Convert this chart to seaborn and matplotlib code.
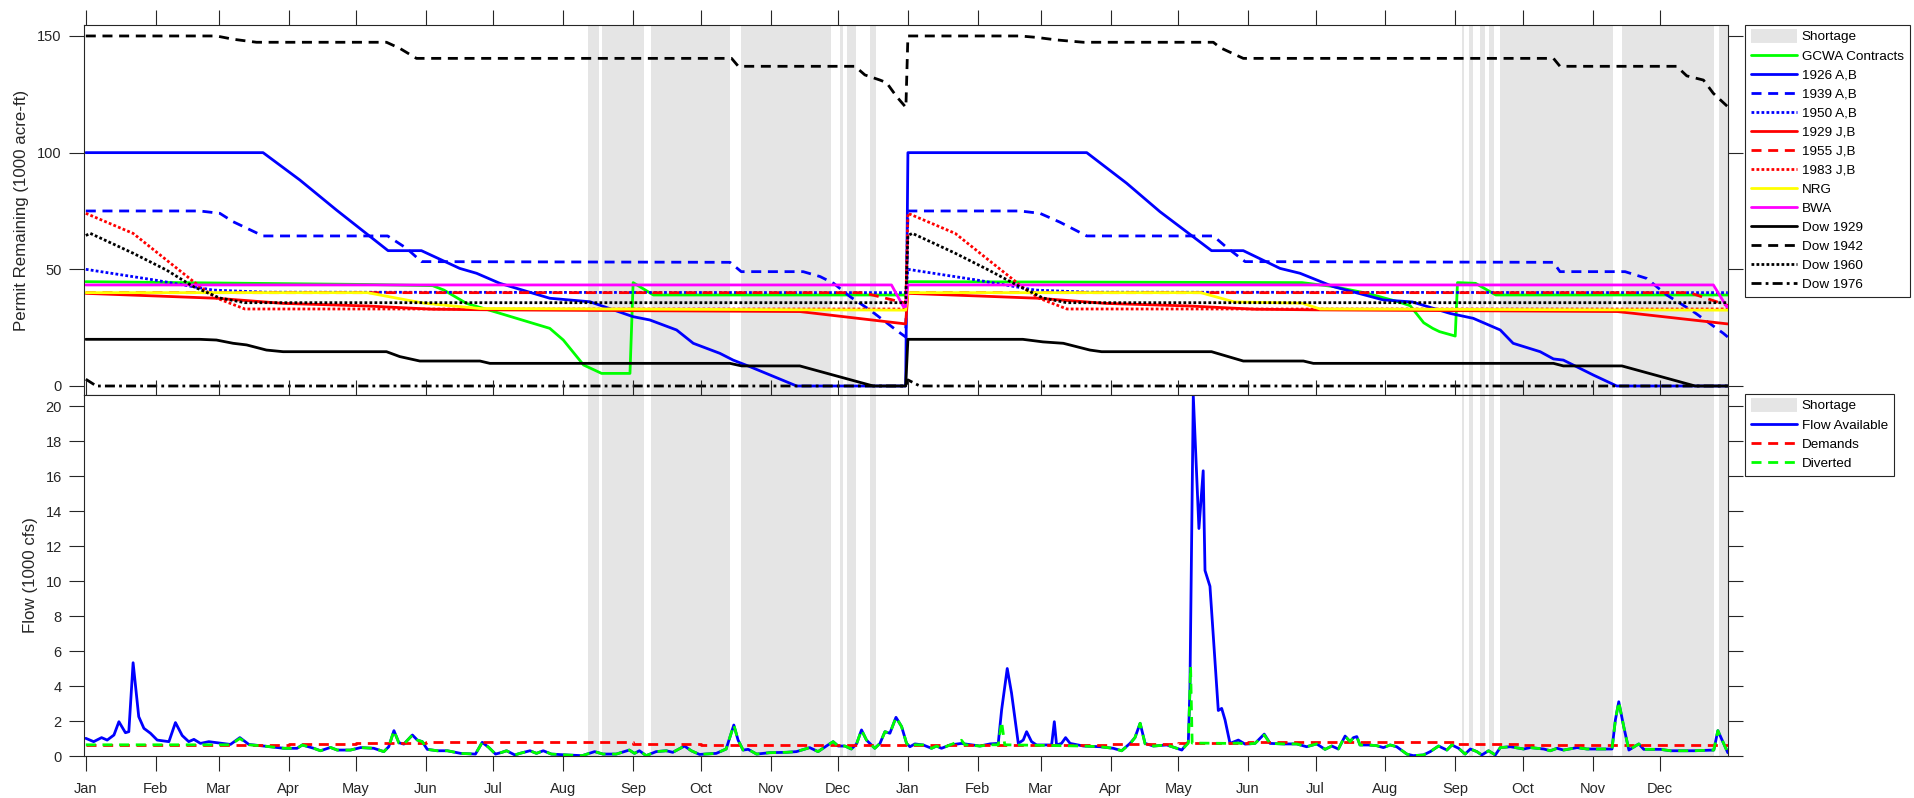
import numpy as np
import pandas as pd
import matplotlib
matplotlib.use("Agg")
import matplotlib.pyplot as plt
import matplotlib.dates as mdates
from matplotlib.lines import Line2D
import seaborn as sns

# ---------------------------------------------------------------------------
# Data (day offsets from 1 Jan of the first simulated year)
# ---------------------------------------------------------------------------
START = pd.Timestamp("2010-01-01")

# Shortage periods (start day, end day)
shortage_start = [223, 229, 251, 291, 335, 338, 348, 611, 614, 619, 623, 628, 682, 725]
shortage_end = [228, 248, 286, 331, 336, 342, 351, 612, 616, 621, 625, 678, 723, 730]

# Permit remaining, 1000 acre-ft
gcwa_day = [0, 125, 154, 159, 169, 184, 206, 212, 221, 229, 241.6, 243, 252, 364,
            365, 540, 554, 569, 583, 588, 594, 598, 601, 608, 609, 617, 626, 729]
gcwa_kaf = [44.7, 43.5, 43.0, 41.1, 35.4, 31.1, 24.7, 19.7, 9.0, 5.4, 5.4, 44.3, 39.0, 39.0,
            44.7, 44.3, 42.6, 39.7, 36.0, 34.4, 27.1, 24.7, 23.3, 21.4, 44.3, 44.0, 39.0, 39.0]

ab1926_day = [0, 78.7, 95, 111.3, 134.2, 149, 166, 173.5, 183.8, 206, 223.8, 243, 250.4,
              262.3, 269.7, 281.5, 287.4, 294.8, 315.6, 364,
              365, 444.4, 462.1, 476.9, 499.8, 513.9, 530.2, 539.1, 553.8, 576, 589, 605.7,
              616, 628, 633.7, 645.7, 651.6, 656, 669.3, 679.7, 729]
ab1926_kaf = [100, 100, 88.3, 75.4, 58, 58, 50.4, 48.3, 44, 37.6, 36.1, 29.7, 28.3,
              24, 18.3, 14, 11.1, 8.3, 0, 0,
              100, 100, 86.9, 74.7, 58, 58, 50.4, 48.3, 42.6, 36.9, 36, 31.1,
              29, 24, 18.3, 14.7, 11.6, 11.1, 4.7, 0, 0]

ab1939_day = [0, 50.6, 59.5, 65.4, 78.7, 134, 142.4, 149, 286, 291, 318.5, 326, 332,
              339.3, 348.1, 360.7, 364,
              365, 414.7, 423.6, 432.5, 444.4, 500.6, 506.5, 514.7, 651.6, 654.5, 683.4,
              693, 701.9, 713.7, 727, 729]
ab1939_kaf = [75, 75, 74, 70.4, 64.3, 64.3, 59, 53.3, 53, 49, 49, 46.9, 44,
              38.3, 32.6, 23.3, 21,
              75, 75, 74, 70.2, 64.3, 64.3, 59.4, 53.3, 53, 49, 49,
              46.1, 39, 31.9, 22.6, 21]

ab1950_day = [0, 30, 56.5, 80, 364, 365, 395, 421.5, 445, 729]
ab1950_kaf = [50, 45.5, 41.1, 40.2, 40, 50, 45.5, 41.1, 40.2, 40]

jb1929_day = [0, 58, 87.6, 124.6, 154, 184, 317, 364,
              365, 423, 452.6, 489.6, 519, 549, 680, 729]
jb1929_kaf = [39.7, 37.6, 35.4, 34.3, 32.9, 32.6, 31.9, 26.6,
              39.7, 37.6, 35.4, 34.3, 32.9, 32.6, 31.9, 26.6]

jb1955_day = [0, 345, 364, 365, 712, 729]
jb1955_kaf = [40, 40, 35.5, 40, 40, 34.5]

jb1983_day = [0, 21, 35.8, 50.6, 58, 70.6, 364, 365, 386, 400.8, 415.6, 423, 435.6, 729]
jb1983_kaf = [74, 65.4, 54, 42.6, 37.7, 33, 33, 74, 65.4, 54, 42.6, 37.7, 33, 33]

nrg_day = [0, 125, 150, 175, 364, 365, 495, 510, 540, 548, 729]
nrg_kaf = [40, 40, 35.5, 33.2, 32.5, 40, 40, 36, 35.5, 33, 32.5]

bwa_day = [0, 357.7, 363, 364, 365, 722.6, 728.5, 729]
bwa_kaf = [43.3, 43.3, 34, 34, 43.3, 43.3, 34, 34]

dow1929_day = [0, 50.6, 58, 65.4, 71.4, 80.2, 87.6, 133.5, 139.4, 148.3, 175, 179.4, 286,
               291.2, 317, 349.6, 364,
               365, 416, 425, 434, 445.8, 451, 499.8, 513.9, 540.6, 545, 651.6, 656, 682,
               714.5, 729]
dow1929_kaf = [20, 20, 19.7, 18.3, 17.6, 15.4, 14.7, 14.7, 12.6, 10.7, 10.7, 9.7, 9.7,
               8.6, 8.6, 0, 0,
               20, 20, 18.9, 18.3, 15.4, 14.7, 14.7, 10.7, 10.7, 9.7, 9.7, 8.6, 8.6,
               0, 0]

dow1942_day = [0, 58, 65.4, 75.8, 133.5, 139.4, 146.8, 286.7, 289.7, 341.5, 345.9, 352.6,
               355.5, 360, 364.1,
               365, 414.7, 422, 431, 442.9, 500.6, 503.6, 513.9, 651.6, 654.5, 706.3, 710.8,
               718.2, 722.6, 729.3]
dow1942_kaf = [150, 150, 148.6, 147.3, 147.3, 144.7, 140.4, 140.4, 137, 137, 133.3, 131.1,
               130, 124, 119.4,
               150, 150, 149.4, 148.3, 147.3, 147.3, 145, 140.4, 140.4, 137, 137, 132.9,
               131.1, 125.4, 119.4]

dow1960_day = [0, 2, 21, 35.8, 47.7, 59.5, 70.6, 364, 365, 367, 386, 400.8, 413.3, 425,
               435.5, 729]
dow1960_kaf = [64.5, 65.4, 56.9, 49.7, 42.6, 37.7, 35.7, 35.7, 64.5, 65.4, 56.9, 49.7,
               43.3, 37.7, 35.7, 35.7]

dow1976_day = [0, 4.7, 364, 365, 370.3, 729]
dow1976_kaf = [2.9, 0, 0, 2.6, 0, 0]

# Flow available, 1000 cfs
flow_day = [0, 3.5, 7, 9.5, 12.5, 14.7, 17.6, 19.1, 21, 23.5, 25.8, 28.7, 31.7, 36.9, 39.8,
            42.8, 45.7, 48, 50.9, 54.6, 58.3, 64.2, 68.4, 72.4, 79, 88, 93.8, 96.1, 101.2,
            104.2, 108.6, 111.6, 117.5, 122, 127.9, 132.3, 134.5, 136.8, 139, 141.2, 145,
            147.2, 149.4, 151.6, 156, 160.5, 166.4, 173, 176, 178.9, 181.9, 184.5, 186.8,
            190.5, 192.7, 197.2, 200.1, 203.1, 206.7, 213.4, 220.4, 225.9, 229.6, 235.5,
            241.3, 243.6, 245.8, 248.8, 253.2, 257.7, 260.6, 265.8, 268.8, 272.5, 279.9,
            284.3, 287.7, 289.6, 291.8, 294.1, 297.8, 303.7, 311.1, 315.5, 321.4, 325.1,
            328.8, 331.8, 334, 337, 339.9, 342.2, 344.4, 346.6, 350.3, 352.6, 354.8, 357,
            359.7, 362.2, 364.4,
            365.9, 368.1, 371.8, 375.5, 377.7, 379.9, 383.7, 388.8, 390.3, 397, 401.4, 405.1,
            406.6, 409.1, 411, 414, 416.2, 417.7, 419.9, 422.1, 428.8, 430, 431, 433.2, 435,
            437, 442.9, 450.3, 456.2, 459.9, 463.6, 465.8, 468.1, 470.3, 474, 479.9, 484.4,
            486.6, 489.5, 490.2, 491.7, 494.2, 496.1, 496.9, 499.1, 502.8, 504.3, 505.8, 508,
            511.7, 514.7, 519.1, 523.2, 525.8, 531.7, 537.6, 542, 546.5, 550.2, 553.2, 556.1,
            559.1, 561.3, 562.8, 564.3, 565.7, 569.4, 573.1, 576.1, 579.1, 582, 586.5, 589.4,
            593.9, 596.9, 600.6, 604.3, 606.5, 609.5, 612.4, 614.7, 617.6, 619.8, 622.8,
            625.8, 628, 632.5, 638.4, 641.3, 647.3, 650.2, 653.2, 656.1, 662.1, 666.5, 672.4,
            677.6, 679.1, 680.6, 682.8, 685.1, 689.5, 691.7, 699.1, 703.6, 713.9, 722.8,
            724.6, 726.5, 729]
flow_kcfs = [1.01, 0.82, 1.05, 0.91, 1.2, 1.96, 1.33, 1.39, 5.33, 2.25, 1.58, 1.3, 0.91, 0.82,
             1.91, 1.17, 0.82, 0.95, 0.72, 0.82, 0.76, 0.66, 1.05, 0.66, 0.57, 0.44, 0.44,
             0.63, 0.44, 0.30, 0.49, 0.34, 0.34, 0.48, 0.44, 0.25, 0.53, 1.45, 0.76, 0.68,
             1.2, 0.91, 0.82, 0.38, 0.30, 0.30, 0.15, 0.11, 0.78, 0.49, 0.11, 0.20, 0.30,
             0.06, 0.15, 0.30, 0.15, 0.30, 0.11, 0.06, 0.02, 0.25, 0.11, 0.11, 0.34, 0.15,
             0.30, 0.02, 0.25, 0.30, 0.21, 0.57, 0.30, 0.09, 0.15, 0.40, 1.77, 0.91, 0.34,
             0.38, 0.11, 0.19, 0.21, 0.25, 0.48, 0.25, 0.57, 0.82, 0.57, 0.57, 0.40, 0.69,
             1.49, 0.91, 0.44, 0.72, 1.39, 1.30, 2.21, 1.68, 0.72,
             0.53, 0.69, 0.63, 0.44, 0.57, 0.44, 0.63, 0.72, 0.69, 0.57, 0.69, 0.72, 2.63,
             5.0, 3.6, 0.72, 0.91, 1.39, 0.82, 0.63, 0.63, 1.96, 0.63, 0.72, 1.05, 0.72,
             0.57, 0.53, 0.44, 0.30, 0.72, 1.05, 1.87, 0.72, 0.57, 0.63, 0.44, 0.34, 0.82,
             3.77, 20.6, 13.0, 16.3, 10.6, 9.7, 2.6, 2.72, 2.06, 0.72, 0.91, 0.68, 0.72,
             1.25, 0.72, 0.69, 0.69, 0.53, 0.69, 0.38, 0.57, 0.40, 1.14, 0.82, 1.05, 1.11,
             0.63, 0.63, 0.59, 0.48, 0.63, 0.53, 0.11, 0.02, 0.06, 0.25, 0.57, 0.34, 0.63,
             0.44, 0.11, 0.40, 0.25, 0.06, 0.30, 0.06, 0.48, 0.53, 0.40, 0.48, 0.40, 0.30,
             0.44, 0.34, 0.48, 0.40, 0.40, 0.40, 2.06, 3.10, 1.68, 0.34, 0.69, 0.38, 0.38,
             0.30, 0.30, 0.34, 1.45, 0.91, 0.19]

# Monthly demand, 1000 cfs (month start day and value)
demand_day = [0, 31, 59, 90, 120, 151, 181, 212, 243, 273, 304, 334,
              365, 396, 424, 455, 485, 516, 546, 577, 608, 638, 669, 699, 730]
demand_kcfs = [0.64, 0.64, 0.64, 0.69, 0.74, 0.82, 0.82, 0.82, 0.69, 0.64, 0.64, 0.64,
               0.64, 0.64, 0.64, 0.69, 0.74, 0.82, 0.82, 0.82, 0.69, 0.64, 0.64, 0.64, 0.64]

# Diverted, 1000 cfs
div_day = [0, 64.2, 68.4, 72.4, 79, 88, 93.8, 96.1, 101.2, 104.2, 108.6, 111.6, 117.5, 122,
           127.9, 132.3, 134.5, 136.8, 139, 141.2, 145, 147.2, 149.4, 151.6, 156, 160.5,
           166.4, 173, 176, 178.9, 181.9, 184.5, 186.8, 190.5, 192.7, 197.2, 200.1, 203.1,
           206.7, 213.4, 220.4, 225.9, 229.6, 235.5, 241.3, 243.6, 245.8, 248.8, 253.2,
           257.7, 260.6, 265.8, 268.8, 272.5, 279.9, 284.3, 287.7, 289.6, 291.8, 294.1,
           297.8, 303.7, 311.1, 315.5, 321.4, 325.1, 328.8, 331.8, 334, 337, 339.9, 342.2,
           344.4, 346.6, 350.3, 352.6, 354.8, 357, 359.7, 362.2, 364.4,
           365.9, 368.1, 371.8, 375.5, 377.7, 379.9, 383.7, 388.8, 390.3, 397, 401.4, 405.1,
           406.6, 408, 442.9, 450.3, 456.2, 459.9, 463.6, 465.8, 468.1, 470.3, 474, 479.9,
           484.4, 486.6, 489.5, 490.5, 491.2, 508, 511.7, 514.7, 519.1, 523.2, 525.8, 531.7,
           537.6, 542, 546.5, 550.2, 553.2, 556.1, 559.1, 561.3, 562.8, 564.3, 565.7, 569.4,
           573.1, 576.1, 579.1, 582, 586.5, 589.4, 593.9, 596.9, 600.6, 604.3, 606.5, 609.5,
           612.4, 614.7, 617.6, 619.8, 622.8, 625.8, 628, 632.5, 638.4, 641.3, 647.3, 650.2,
           653.2, 656.1, 662.1, 666.5, 672.4, 677.6, 679.1, 680.6, 682.8, 685.1, 689.5,
           691.7, 699.1, 703.6, 713.9, 722.8, 724.6, 726.5, 729]
div_kcfs = [0.64, 0.64, 1.0, 0.64, 0.57, 0.44, 0.44, 0.63, 0.44, 0.30, 0.49, 0.34, 0.34, 0.48,
            0.44, 0.25, 0.53, 1.45, 0.74, 0.68, 1.2, 0.91, 0.82, 0.38, 0.30, 0.30,
            0.15, 0.11, 0.78, 0.49, 0.11, 0.20, 0.30, 0.06, 0.15, 0.30, 0.15, 0.30,
            0.11, 0.06, 0.02, 0.25, 0.11, 0.11, 0.34, 0.15, 0.30, 0.02, 0.25,
            0.30, 0.21, 0.57, 0.30, 0.09, 0.15, 0.40, 1.77, 0.91, 0.34, 0.38,
            0.11, 0.19, 0.21, 0.25, 0.48, 0.25, 0.57, 0.82, 0.57, 0.57, 0.40, 0.69,
            1.49, 0.91, 0.44, 0.72, 1.39, 1.30, 2.21, 1.68, 0.72,
            0.53, 0.64, 0.63, 0.44, 0.57, 0.44, 0.63, 0.9, 0.64, 0.57, 0.64, 0.64,
            1.96, 0.64, 0.57, 0.53, 0.44, 0.30, 0.69, 1.05, 1.87, 0.69, 0.57, 0.63,
            0.44, 0.34, 0.74, 5.1, 0.74, 0.72, 0.74, 0.68, 0.72, 1.2, 0.72, 0.69,
            0.69, 0.53, 0.69, 0.38, 0.57, 0.40, 1.14, 0.82, 1.05, 1.11, 0.63, 0.63,
            0.59, 0.48, 0.63, 0.53, 0.11, 0.02, 0.06, 0.25, 0.57, 0.34, 0.63, 0.44,
            0.11, 0.40, 0.25, 0.06, 0.30, 0.06, 0.48, 0.53, 0.40, 0.48, 0.40, 0.30,
            0.44, 0.34, 0.48, 0.40, 0.40, 0.40, 2.06, 3.10, 1.68, 0.34, 0.69,
            0.38, 0.38, 0.30, 0.30, 0.34, 1.45, 0.91, 0.19]


def to_dates(days):
    return START + pd.to_timedelta(np.asarray(days, dtype=float), unit="D")


# ---------------------------------------------------------------------------
# Styling
# ---------------------------------------------------------------------------
sns.set_theme(style="white")
plt.rcParams["font.family"] = ["Liberation Sans", "DejaVu Sans"]
AX_COLOR = "#262626"
SHORT_COLOR = "#e5e5e5"
LW = 2.0
SOLID = "-"
DASH = (0, (3.6, 2.4))
DOT = (0, (1.0, 0.8))
DASHDOT = (0, (3.6, 1.5, 1.0, 1.5))

BLUE, RED, GREEN = (0, 0, 1), (1, 0, 0), (0, 1, 0)
YELLOW, MAGENTA, BLACK = (1, 1, 0), (1, 0, 1), (0, 0, 0)

permit_series = [
    ("GCWA Contracts", gcwa_day, gcwa_kaf, GREEN, SOLID),
    ("1926 A,B", ab1926_day, ab1926_kaf, BLUE, SOLID),
    ("1939 A,B", ab1939_day, ab1939_kaf, BLUE, DASH),
    ("1950 A,B", ab1950_day, ab1950_kaf, BLUE, DOT),
    ("1929 J,B", jb1929_day, jb1929_kaf, RED, SOLID),
    ("1955 J,B", jb1955_day, jb1955_kaf, RED, DASH),
    ("1983 J,B", jb1983_day, jb1983_kaf, RED, DOT),
    ("NRG", nrg_day, nrg_kaf, YELLOW, SOLID),
    ("BWA", bwa_day, bwa_kaf, MAGENTA, SOLID),
    ("Dow 1929", dow1929_day, dow1929_kaf, BLACK, SOLID),
    ("Dow 1942", dow1942_day, dow1942_kaf, BLACK, DASH),
    ("Dow 1960", dow1960_day, dow1960_kaf, BLACK, DOT),
    ("Dow 1976", dow1976_day, dow1976_kaf, BLACK, DASHDOT),
]

W, H = 1915, 798
fig = plt.figure(figsize=(W / 100, H / 100), dpi=100)
left, right = 84 / W, 1728 / W
ax1 = fig.add_axes([left, 1 - 395 / H, right - left, (395 - 25) / H])
ax2 = fig.add_axes([left, 1 - 756 / H, right - left, (756 - 395) / H], sharex=ax1)

# Shortage shading on both panels
for ax in (ax1, ax2):
    for s, e in zip(shortage_start, shortage_end):
        ax.axvspan(to_dates([s])[0], to_dates([e])[0], color=SHORT_COLOR, lw=0, zorder=0)

# Upper panel: permit remaining
handles1 = [Line2D([0], [0], color=SHORT_COLOR, lw=10, solid_capstyle="butt")]
labels1 = ["Shortage"]
for name, d, v, c, ls in permit_series:
    sns.lineplot(x=to_dates(d), y=v, ax=ax1, color=c, lw=LW, linestyle=ls,
                 estimator=None, sort=False, legend=False)
    handles1.append(Line2D([0], [0], color=c, lw=LW, linestyle=ls))
    labels1.append(name)

# Lower panel: flows
sns.lineplot(x=to_dates(flow_day), y=flow_kcfs, ax=ax2, color=BLUE, lw=LW,
             estimator=None, sort=False, legend=False)
sns.lineplot(x=to_dates(demand_day), y=demand_kcfs, ax=ax2, color=RED, lw=LW,
             linestyle=DASH, drawstyle="steps-post", estimator=None, sort=False,
             legend=False)
sns.lineplot(x=to_dates(div_day), y=div_kcfs, ax=ax2, color=GREEN, lw=LW,
             linestyle=DASH, estimator=None, sort=False, legend=False)
handles2 = [Line2D([0], [0], color=SHORT_COLOR, lw=10, solid_capstyle="butt"),
            Line2D([0], [0], color=BLUE, lw=LW),
            Line2D([0], [0], color=RED, lw=LW, linestyle=DASH),
            Line2D([0], [0], color=GREEN, lw=LW, linestyle=DASH)]
labels2 = ["Shortage", "Flow Available", "Demands", "Diverted"]

# Axes formatting
ax1.set_xlim(to_dates([-0.8])[0], to_dates([729.1])[0])
ax1.set_ylim(-3.86, 154.7)
ax1.set_yticks([0, 50, 100, 150])
ax2.set_ylim(0, 20.63)
ax2.set_yticks(list(range(0, 21, 2)))
ax2.xaxis.set_major_locator(mdates.MonthLocator())
ax2.xaxis.set_major_formatter(mdates.DateFormatter("%b"))

for ax in (ax1, ax2):
    ax.grid(False)
    ax.set_facecolor("white")
    ax.tick_params(axis="both", direction="out", length=11, width=0.8, color=AX_COLOR,
                   labelcolor=AX_COLOR, labelsize=10.5, top=True, right=True,
                   bottom=True, left=True)
    ax.tick_params(axis="y", pad=5)
    ax.tick_params(axis="x", pad=7.5)
    for sp in ax.spines.values():
        sp.set_visible(True)
        sp.set_color(AX_COLOR)
        sp.set_linewidth(0.8)
    ax.set_xlabel("")
ax1.tick_params(labelbottom=False)

ax1.set_ylabel("Permit Remaining (1000 acre-ft)", fontsize=12.2, color=AX_COLOR)
ax2.set_ylabel("Flow (1000 cfs)", fontsize=12.2, color=AX_COLOR)
ax1.yaxis.set_label_coords((29 - 84) / (1728 - 84), 0.5)
ax2.yaxis.set_label_coords((38 - 84) / (1728 - 84), 0.5)

legend_kw = dict(loc="upper left", bbox_transform=fig.transFigure, borderaxespad=0,
                 frameon=True, fancybox=False, framealpha=1, edgecolor=AX_COLOR,
                 fontsize=9.7, handlelength=3.4, handletextpad=0.35, labelspacing=0.49,
                 borderpad=0.45)
leg1 = ax1.legend(handles1, labels1, bbox_to_anchor=(1745 / W, 1 - 25 / H), **legend_kw)
leg2 = ax2.legend(handles2, labels2, bbox_to_anchor=(1745 / W, 1 - 394 / H), **legend_kw)
for leg in (leg1, leg2):
    leg.get_frame().set_linewidth(0.8)
    for t in leg.get_texts():
        t.set_color("black")

fig.savefig("out.png", dpi=100)
